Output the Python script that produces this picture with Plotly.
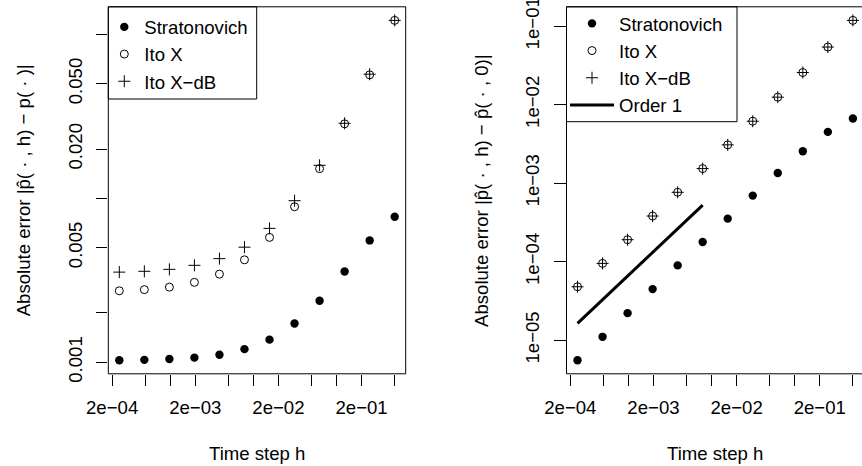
import math
import plotly.graph_objects as go

# ---------------- data ----------------
h_steps = [0.000244140625, 0.00048828125, 0.0009765625, 0.001953125, 0.00390625,
           0.0078125, 0.015625, 0.03125, 0.0625, 0.125, 0.25, 0.5]

# left panel: |p_hat(., h) - p(.)|
strat_err_exact = [1.030e-3, 1.035e-3, 1.048e-3, 1.068e-3, 1.111e-3, 1.203e-3,
                   1.375e-3, 1.726e-3, 2.375e-3, 3.58e-3, 5.54e-3, 7.73e-3]
itox_err_exact = [2.73e-3, 2.775e-3, 2.875e-3, 3.075e-3, 3.45e-3, 4.22e-3,
                  5.78e-3, 8.89e-3, 1.518e-2, 2.85e-2, 5.67e-2, 0.1218]
itoxdb_err_exact = [3.55e-3, 3.59e-3, 3.69e-3, 3.905e-3, 4.29e-3, 5.04e-3,
                    6.56e-3, 9.68e-3, 1.591e-2, 2.87e-2, 5.72e-2, 0.1218]

# right panel: |p_hat(., h) - p_hat(., 0)|
strat_err_extrap = [5.56e-6, 1.103e-5, 2.21e-5, 4.47e-5, 8.96e-5, 1.777e-4,
                    3.53e-4, 6.93e-4, 1.348e-3, 2.55e-3, 4.49e-3, 6.65e-3]
itox_err_extrap = [4.79e-5, 9.50e-5, 1.904e-4, 3.81e-4, 7.64e-4, 1.531e-3,
                   3.07e-3, 6.14e-3, 1.243e-2, 2.56e-2, 5.40e-2, 0.118]
itoxdb_err_extrap = [4.79e-5, 9.50e-5, 1.904e-4, 3.81e-4, 7.64e-4, 1.531e-3,
                     3.07e-3, 6.14e-3, 1.243e-2, 2.56e-2, 5.40e-2, 0.118]

# reference "Order 1" line (end points)
order1_h = [0.000244140625, 0.0078125]
order1_err = [1.64e-5, 5.24e-4]

x_tickvals = [2e-4, 5e-4, 1e-3, 2e-3, 5e-3, 1e-2, 2e-2, 5e-2, 1e-1, 2e-1, 5e-1]
x_ticktext = ["2e\u221204", "", "", "2e\u221203", "", "", "2e\u221202", "", "", "2e\u221201", ""]
left_y_tickvals = [0.001, 0.002, 0.005, 0.01, 0.02, 0.05, 0.1]
left_y_ticktext = ["0.001", "", "0.005", "", "0.020", "0.050", ""]
right_y_tickvals = [1e-5, 1e-4, 1e-3, 1e-2, 1e-1]
right_y_ticktext = ["1e\u221205", "1e\u221204", "1e\u221203", "1e\u221202", "1e\u221201"]

series_names = ["Stratonovich", "Ito X", "Ito X\u2212dB"]
order_name = "Order 1"

# ---------------- layout geometry (pixels) ----------------
W, H = 862, 466
BOX_TOP, BOX_BOT = 6.8, 373.8
L_X0, L_X1 = 108.3, 405.7
R_X0 = 566.5
BOX_W = L_X1 - L_X0
R_X1 = R_X0 + BOX_W  # slightly beyond the page edge (clipped, as in reference)
LEG_L = (108.3, 256.7, 99.0)   # left, right, bottom of left legend frame
LEG_R = (566.5, 737.0, 121.7)  # left, right, bottom of right legend frame

FONT = "Liberation Sans, Arial, Helvetica, sans-serif"
FS = 18.6


def r_range(vals):
    lo, hi = math.log10(min(vals)), math.log10(max(vals))
    pad = 0.04 * (hi - lo)
    return [lo - pad, hi + pad]


xr = r_range(h_steps)
ppd = BOX_W / (xr[1] - xr[0])
xr_right = [xr[0], xr[0] + (W - R_X0) / ppd]
yr_left = r_range(strat_err_exact + itox_err_exact + itoxdb_err_exact)
yr_right = r_range(strat_err_extrap + itox_err_extrap + itoxdb_err_extrap)


def px(x):
    return x / W


def py(y):
    return 1 - y / H


fig = go.Figure()

styles = [
    dict(symbol="circle", size=8.4, color="black", line=dict(width=0, color="black")),
    dict(symbol="circle-open", size=8, color="black", line=dict(width=1, color="black")),
    dict(symbol="cross-thin", size=8.6, color="black", line=dict(width=1, color="black")),
]

for name, vals, st in zip(series_names, [strat_err_exact, itox_err_exact, itoxdb_err_exact], styles):
    fig.add_trace(go.Scatter(x=h_steps, y=vals, mode="markers", name=name, marker=st,
                             xaxis="x", yaxis="y", legend="legend"))

for name, vals, st in zip(series_names, [strat_err_extrap, itox_err_extrap, itoxdb_err_extrap], styles):
    fig.add_trace(go.Scatter(x=h_steps, y=vals, mode="markers", name=name, marker=st,
                             xaxis="x2", yaxis="y2", legend="legend2"))

fig.add_trace(go.Scatter(x=order1_h, y=order1_err, mode="lines", name=order_name,
                         line=dict(color="black", width=3),
                         xaxis="x2", yaxis="y2", legend="legend2"))

axis_common = dict(type="log", showgrid=False, zeroline=False, showline=False,
                   ticks="outside", ticklen=11.3, tickwidth=1, tickcolor="black",
                   tickfont=dict(family=FONT, size=FS, color="black"), tickmode="array",
                   automargin=False, ticklabeloverflow="allow")

fig.update_layout(
    width=W, height=H, margin=dict(l=0, r=0, t=0, b=0, pad=0, autoexpand=False), autosize=False,
    paper_bgcolor="white", plot_bgcolor="white",
    font=dict(family=FONT, size=FS, color="black"),
    xaxis=dict(axis_common, domain=[px(L_X0), px(L_X1)], range=xr, ticklabelstandoff=6,
               tickvals=x_tickvals, ticktext=x_ticktext, anchor="y"),
    yaxis=dict(axis_common, domain=[py(BOX_BOT), py(BOX_TOP)], range=yr_left, ticklabelstandoff=7,
               tickvals=left_y_tickvals, ticktext=left_y_ticktext, tickangle=-90, anchor="x"),
    xaxis2=dict(axis_common, domain=[px(R_X0), 1.0], range=xr_right, ticklabelstandoff=6,
                tickvals=x_tickvals, ticktext=x_ticktext, anchor="y2"),
    yaxis2=dict(axis_common, domain=[py(BOX_BOT), py(BOX_TOP)], range=yr_right, ticklabelstandoff=8,
                tickvals=right_y_tickvals, ticktext=right_y_ticktext, tickangle=-90, anchor="x2"),
    legend=dict(x=px(LEG_L[0] - 4), y=py(BOX_TOP + 1.5), xanchor="left", yanchor="top",
                bgcolor="rgba(0,0,0,0)", borderwidth=0,
                font=dict(family=FONT, size=FS, color="black")),
    legend2=dict(x=px(LEG_R[0] - 1.5), y=py(BOX_TOP - 2), xanchor="left", yanchor="top",
                 bgcolor="rgba(0,0,0,0)", borderwidth=0, itemwidth=44,
                 font=dict(family=FONT, size=FS, color="black")),
    shapes=[
        dict(type="rect", xref="paper", yref="paper", x0=px(L_X0), x1=px(L_X1),
             y0=py(BOX_BOT), y1=py(BOX_TOP), line=dict(color="black", width=1)),
        dict(type="rect", xref="paper", yref="paper", x0=px(R_X0), x1=px(R_X1),
             y0=py(BOX_BOT), y1=py(BOX_TOP), line=dict(color="black", width=1)),
        dict(type="rect", xref="paper", yref="paper", x0=px(LEG_L[0]), x1=px(LEG_L[1]),
             y0=py(LEG_L[2]), y1=py(BOX_TOP), line=dict(color="black", width=1)),
        dict(type="rect", xref="paper", yref="paper", x0=px(LEG_R[0]), x1=px(LEG_R[1]),
             y0=py(LEG_R[2]), y1=py(BOX_TOP), line=dict(color="black", width=1)),
    ],
    annotations=[
        dict(text="Time step h", xref="paper", yref="paper", x=px((L_X0 + L_X1) / 2), y=py(453.7),
             xanchor="center", yanchor="middle", showarrow=False, font=dict(size=FS)),
        dict(text="Time step h", xref="paper", yref="paper", x=px((R_X0 + R_X1) / 2), y=py(453.7),
             xanchor="center", yanchor="middle", showarrow=False, font=dict(size=FS)),
        dict(text="Absolute error |p\u0302( \u00b7 , h) \u2212 p( \u00b7 )|", xref="paper", yref="paper",
             x=px(23.3), y=py(190), xanchor="center", yanchor="middle", textangle=-90,
             showarrow=False, font=dict(size=FS)),
        dict(text="Absolute error |p\u0302( \u00b7 , h) \u2212 p\u0302( \u00b7 , 0)|", xref="paper", yref="paper",
             x=px(481), y=py(190), xanchor="center", yanchor="middle", textangle=-90,
             showarrow=False, font=dict(size=FS)),
    ],
)

fig.write_html("out.html", config={"displayModeBar": False},
               post_script="document.body.style.margin='0';document.body.style.overflow='hidden';")
